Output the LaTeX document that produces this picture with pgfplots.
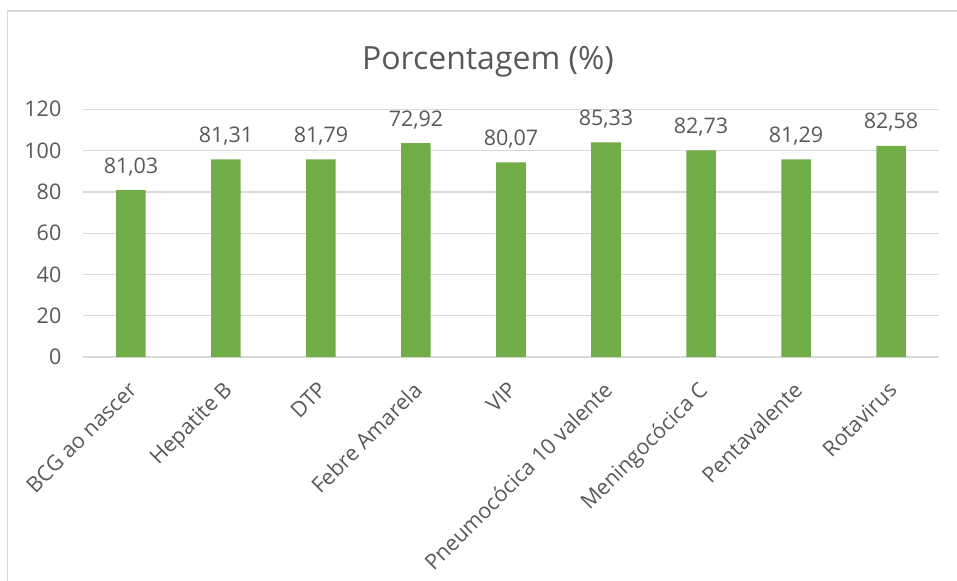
\documentclass[border=0pt]{standalone}
\usepackage{pgfplots}
\pgfplotsset{compat=1.18}
\usepackage{fontspec}
\setmainfont{Open Sans}
\definecolor{bargreen}{HTML}{70AD47}
\definecolor{gridgray}{HTML}{D9D9D9}
\definecolor{txtgray}{HTML}{595959}
\begin{document}
\begin{tikzpicture}
\path[use as bounding box] (-83.5bp,-224bp) rectangle (873.5bp,357bp);
\draw[gridgray, line width=1.5bp] (-76bp,-224bp) -- (-76bp,346bp) -- (873.5bp,346bp);
\begin{axis}[
  at={(0,0)}, anchor=south west,
  scale only axis, width=855bp, height=247.7bp,
  xmin=-0.5, xmax=8.5, ymin=0, ymax=120,
  ytick={0,20,...,120},
  xtick={0,...,8},
  xticklabels={BCG ao nascer, Hepatite B, DTP, Febre Amarela, VIP, Pneumocócica 10 valente, Meningocócica C, Pentavalente, Rotavirus},
  axis line style={draw=none},
  ymajorgrids, grid style={gridgray, line width=1.3bp},
  major tick length=0pt,
  /pgf/number format/assume math mode=true,
  ticklabel style={font=\fontsize{21.5bp}{25bp}\selectfont, text=txtgray},
  yticklabel style={anchor=east, inner sep=0pt, xshift=-22bp},
  xticklabel style={xshift=-4bp, yshift=-23bp, rotate=45, anchor=north east, inner sep=0pt},
  clip=false,
]
\addplot[ybar, bar width=29.5bp, fill=bargreen, draw=none,
  nodes near coords, point meta=explicit symbolic,
  nodes near coords style={anchor=south, inner sep=0pt, yshift=14bp, text=txtgray, font=\fontsize{21.5bp}{25bp}\selectfont}]
  table[meta=label] {
x y label
0 80.8 81,03
1 95.7 81,31
2 95.7 81,79
3 103.6 72,92
4 94.3 80,07
5 104.0 85,33
6 100.1 82,73
7 95.7 81,29
8 102.3 82,58
};
\end{axis}
\node[anchor=base, text=txtgray, font=\fontsize{32bp}{37bp}\selectfont] at (404.5bp,287.7bp) {Porcentagem (\%)};
\end{tikzpicture}
\end{document}
